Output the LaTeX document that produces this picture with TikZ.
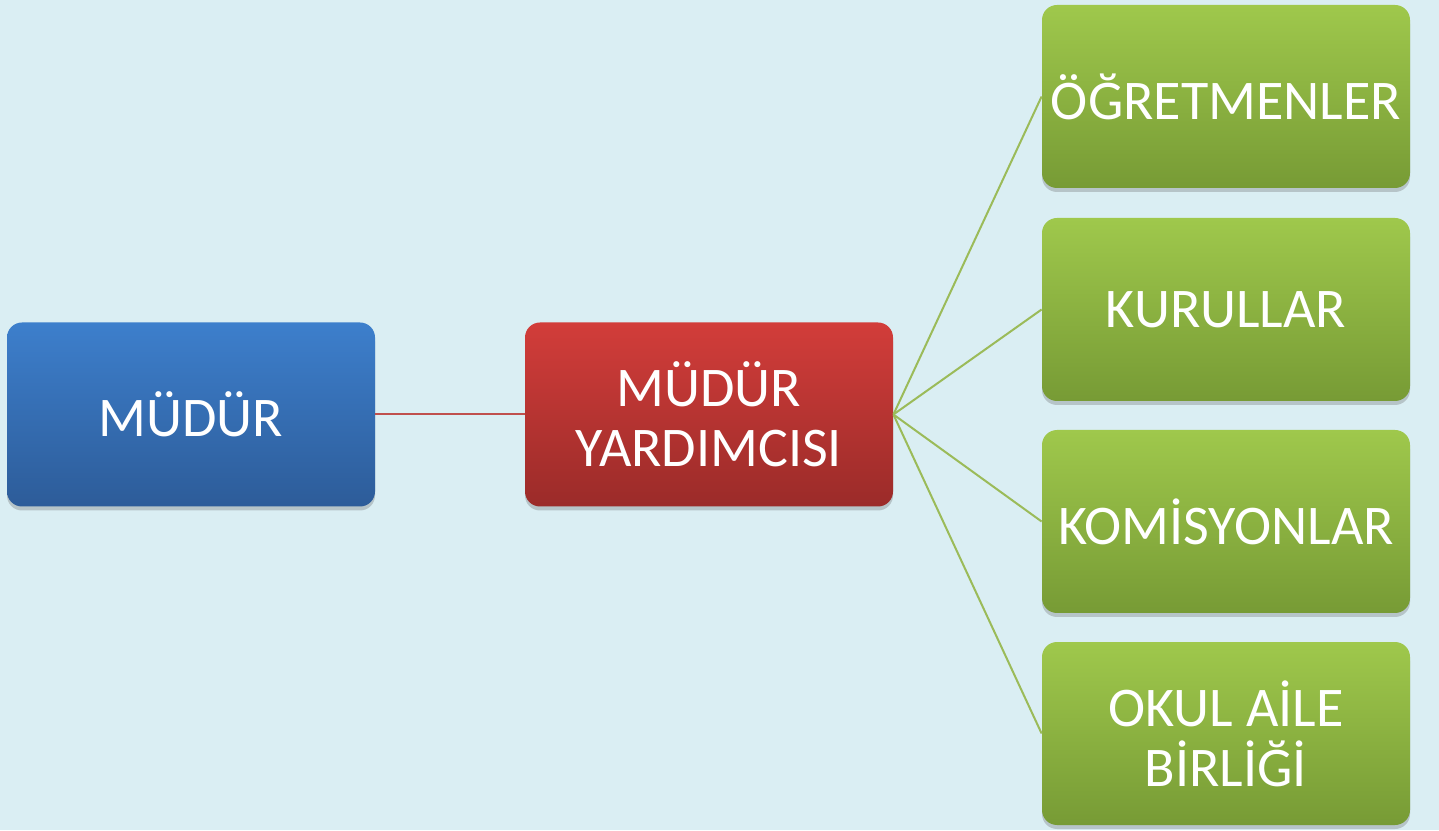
\documentclass[tikz,border=0pt]{standalone}
\usepackage{fontspec}
\setmainfont{Carlito}
\usetikzlibrary{shadows}
\definecolor{bgc}{HTML}{DAEEF3}
\definecolor{bluetop}{HTML}{3D7FCC}
\definecolor{bluebot}{HTML}{2D5C99}
\definecolor{redtop}{HTML}{D23D3A}
\definecolor{redbot}{HTML}{9B2B29}
\definecolor{greentop}{HTML}{9FC84C}
\definecolor{greenbot}{HTML}{779B35}
\definecolor{redline}{HTML}{C0504D}
\definecolor{greenline}{HTML}{9BBB59}
\tikzset{
  box/.style={rounded corners=7.5pt, minimum width=184pt, minimum height=92pt,
    align=center, text=white, font=\fontsize{28}{30}\selectfont, inner sep=2pt,
    drop shadow={shadow xshift=0pt, shadow yshift=-2pt, opacity=0.3, fill=black!60}},
  bluebox/.style={box, top color=bluetop, bottom color=bluebot},
  redbox/.style={box, top color=redtop, bottom color=redbot},
  greenbox/.style={box, top color=greentop, bottom color=greenbot, minimum height=91.5pt},
  redconn/.style={draw=redline, line width=1pt},
  greenconn/.style={draw=greenline, line width=1pt}
}
\begin{document}
\begin{tikzpicture}
\fill[bgc] (0,0) rectangle (719.5pt,415pt);
\useasboundingbox (0,0) rectangle (719.5pt,415pt);
\node[bluebox] (mudur) at (95.5pt,207.75pt) {MÜDÜR};
\node[redbox] (yard) at (354.5pt,207.75pt) {MÜDÜR\\YARDIMCISI};
\node[greenbox] (ogr) at (613pt,366.75pt) {ÖĞRETMENLER};
\node[greenbox] (kur) at (613pt,260.25pt) {KURULLAR};
\node[greenbox] (kom) at (613pt,154.25pt) {KOMİSYONLAR};
\node[greenbox] (oab) at (613pt,48.25pt) {OKUL AİLE\\BİRLİĞİ};
\draw[redconn] (mudur.east) -- (yard.west);
\draw[greenconn] (yard.east) -- (ogr.west);
\draw[greenconn] (yard.east) -- (kur.west);
\draw[greenconn] (yard.east) -- (kom.west);
\draw[greenconn] (yard.east) -- (oab.west);
\end{tikzpicture}
\end{document}
